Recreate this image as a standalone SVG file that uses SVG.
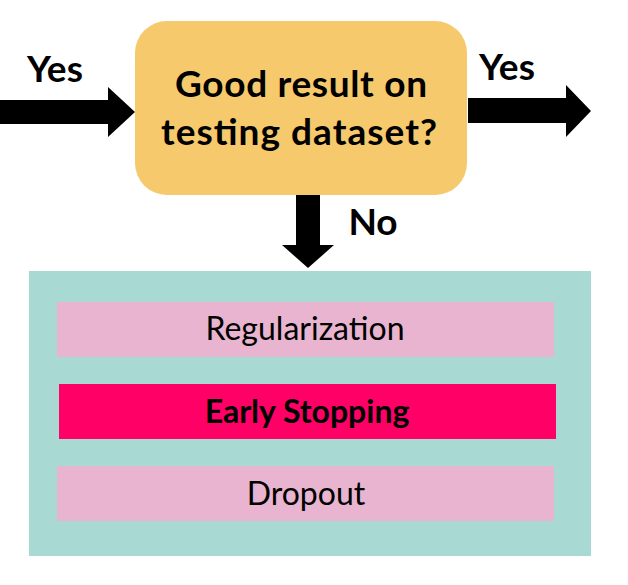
<svg xmlns="http://www.w3.org/2000/svg" width="628" height="585" viewBox="0 0 628 585">
<style>
text{font-family:Lato,"Open Sans","Liberation Sans",sans-serif;fill:#000;text-anchor:middle}
.b{font-weight:bold}
.lbl{font-size:37px;font-weight:bold}
.q{font-size:37px;font-weight:bold}
.item{font-size:32px}
.bar{fill:#e8b4cf}
.arrow{fill:#000}
</style>
<rect width="628" height="585" fill="#fff"/>
<g id="connectors">
<polygon class="arrow" points="0,100 108,100 108,87 135,112 108,137 108,124 0,124"/>
<polygon class="arrow" points="468,98 566,98 566,85 591,111 566,137 566,123 468,123"/>
<polygon class="arrow" points="296,195 320,195 320,245 334,245 308,268 282,245 296,245"/>
<text class="lbl" x="55" y="82">Yes</text>
<text class="lbl" x="507" y="80">Yes</text>
<text class="lbl" x="373" y="235">No</text>
</g>
<g id="decision">
<rect x="135" y="21" width="332" height="174" rx="32" fill="#f5c96c"/>
<text class="q" x="301" y="97" textLength="252">Good result on</text>
<text class="q" x="299" y="145" textLength="276">testing dataset?</text>
</g>
<g id="methods">
<rect x="29" y="271" width="562" height="285" fill="#a9d9d3"/>
<g id="regularization">
<rect class="bar" x="57" y="302" width="497" height="55"/>
<text class="item" x="305" y="340">Regularization</text>
</g>
<g id="early-stopping">
<rect x="59" y="384" width="497" height="55" fill="#ff0066"/>
<text class="item b" x="307" y="423">Early Stopping</text>
</g>
<g id="dropout">
<rect class="bar" x="57" y="466" width="497" height="55"/>
<text class="item" x="306" y="505">Dropout</text>
</g>
</g>
</svg>
